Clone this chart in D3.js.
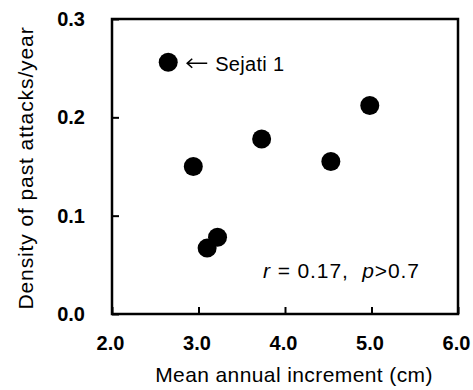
<!DOCTYPE html>
<html>
<head>
<meta charset="utf-8">
<script src="https://cdn.jsdelivr.net/npm/d3@7"></script>
<style>
  body { margin: 0; background: #fff; }
  svg { display: block; font-family: "Liberation Sans", Arial, sans-serif; }
</style>
</head>
<body>
<svg id="chart" width="473" height="390"></svg>
<script>
"use strict";

// mean annual increment (cm) and density of past attacks per year
var increment = [2.65, 2.94, 3.10, 3.22, 3.73, 4.53, 4.98];
var density = [0.256, 0.150, 0.067, 0.078, 0.178, 0.155, 0.212];
var pointNames = ["Sejati 1", "", "", "", "", "", ""];
var xTicks = [2, 3, 4, 5, 6];
var yTicks = [0, 0.1, 0.2, 0.3];

var svg = d3.select("#chart");
var x = d3.scaleLinear().domain([2, 6]).range([112, 458]);
var y = d3.scaleLinear().domain([0, 0.3]).range([314, 19]);

// axes with inward ticks
var xAxis = svg.append("g")
  .attr("transform", "translate(0,314)")
  .call(d3.axisBottom(x).tickValues(xTicks).tickFormat(d3.format(".1f"))
    .tickSizeInner(-7).tickSizeOuter(0).tickPadding(22));
var yAxis = svg.append("g")
  .attr("transform", "translate(112,0)")
  .call(d3.axisLeft(y).tickValues(yTicks).tickFormat(d3.format(".1f"))
    .tickSizeInner(-7).tickSizeOuter(0).tickPadding(27));

[xAxis, yAxis].forEach(function(g) {
  g.select(".domain").remove();
  g.selectAll(".tick line").attr("stroke", "#000").attr("stroke-width", 2);
  g.selectAll(".tick text")
    .attr("fill", "#000")
    .attr("font-family", "'Liberation Sans', Arial, sans-serif")
    .attr("font-size", "20px")
    .attr("font-weight", "bold");
});
xAxis.selectAll(".tick text").attr("dx", "-2");

// frame
svg.append("rect")
  .attr("x", x(2)).attr("y", y(0.3))
  .attr("width", x(6) - x(2)).attr("height", y(0) - y(0.3))
  .attr("fill", "none").attr("stroke", "#000").attr("stroke-width", 2.5);

// points
svg.selectAll("circle.pt")
  .data(increment)
  .enter().append("circle")
  .attr("class", "pt")
  .attr("cx", function(d) { return x(d); })
  .attr("cy", function(d, i) { return y(density[i]); })
  .attr("r", 9.5)
  .attr("fill", "#000");

// label for the named point, with a left-pointing arrow
increment.forEach(function(d, i) {
  if (!pointNames[i]) return;
  var px = x(d), py = y(density[i]);
  var p = d3.path();
  p.moveTo(px + 39, py + 1);
  p.lineTo(px + 19, py + 1);
  p.moveTo(px + 24, py - 3.5);
  p.lineTo(px + 19, py + 1);
  p.lineTo(px + 24, py + 5.5);
  svg.append("path")
    .attr("d", p.toString())
    .attr("fill", "none").attr("stroke", "#000").attr("stroke-width", 1.6);
  svg.append("text")
    .attr("x", px + 47).attr("y", py + 9)
    .attr("font-size", "20px")
    .attr("letter-spacing", "0.3px")
    .text(pointNames[i]);
});

// correlation note
var note = svg.append("text")
  .attr("x", 263).attr("y", 278)
  .attr("font-size", "21px")
  .attr("letter-spacing", "0.9px")
  .style("white-space", "pre");
note.append("tspan").attr("font-style", "italic").text("r");
note.append("tspan").text(" = 0.17,  ");
note.append("tspan").attr("font-style", "italic").text("p");
note.append("tspan").text(">0.7");

// axis titles
svg.append("text")
  .attr("x", (x(2) + x(6)) / 2 + 9).attr("y", 382)
  .attr("text-anchor", "middle")
  .attr("font-size", "21px")
  .attr("letter-spacing", "0.4px")
  .text("Mean annual increment (cm)");

svg.append("text")
  .attr("transform", "translate(33,168) rotate(-90)")
  .attr("text-anchor", "middle")
  .attr("font-size", "21px")
  .attr("letter-spacing", "0.9px")
  .text("Density of past attacks/year");
</script>
</body>
</html>
